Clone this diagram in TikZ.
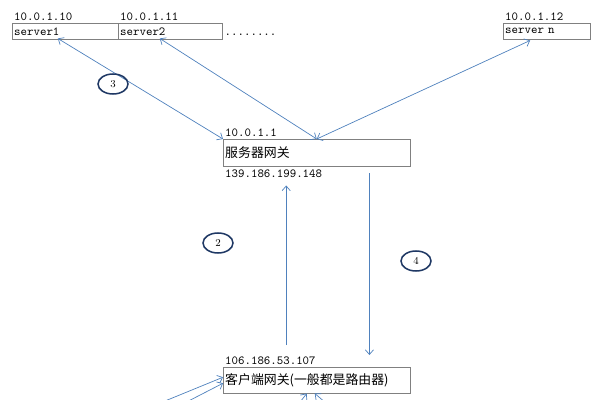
\documentclass[tikz,border=0pt]{standalone}
\usepackage{fontspec}
\newfontfamily\cjk{Noto Sans CJK SC}
\usetikzlibrary{shapes.geometric,calc,arrows.meta}
\definecolor{boxgray}{RGB}{128,128,128}
\definecolor{linkblue}{RGB}{79,129,189}
\definecolor{ringblue}{RGB}{31,56,100}
\newcommand{\cn}[1]{{\cjk\fontsize{11}{13}\selectfont #1}}
\tikzset{
	hostbox/.style={draw=boxgray, anchor=north west, align=left, inner xsep=0.06cm, inner ysep=0pt,
		font=\ttfamily\fontsize{10.5}{12}\selectfont},
	iplabel/.style={inner xsep=0.06cm, inner ysep=2pt, font=\ttfamily\fontsize{10.5}{12}\selectfont},
	link/.style={linkblue, line width=0.6pt},
	ring/.style={ellipse, draw=ringblue, line width=1.3pt, minimum width=0.9cm, minimum height=0.6cm,
		inner sep=0pt, font=\fontsize{9}{10}\selectfont}
}
\begin{document}
\begin{tikzpicture}[x=0.03cm, y=-0.03cm, >={Straight Barb[length=4pt,width=7pt]}]
		\useasboundingbox (0,0) rectangle (599,400);
		\clip (0,0) rectangle (599,400);
		
		%server boxes
		\node[hostbox, text width=3.06cm, minimum height=0.48cm] (s1) at (12,23){server1};
		\node[hostbox, text width=3.00cm, minimum height=0.48cm] (s2) at (118,23){server2};
		\node[hostbox, text width=2.49cm, minimum height=0.48cm] (sn) at (503,23){server n};
		\node[anchor=base west, inner sep=0.06cm, font=\ttfamily\fontsize{10.5}{12}\selectfont] (dots) at (s2.base east){........};
		\node[iplabel, anchor=south west] (s1ip) at (s1.north west){10.0.1.10};
		\node[iplabel, anchor=south west] (s2ip) at (s2.north west){10.0.1.11};
		\node[iplabel, anchor=south west] (snip) at (sn.north west){10.0.1.12};
		
		%gateways
		\node[hostbox, text width=5.49cm, minimum height=0.81cm] (gw) at (223,139){\cn{服务器网关}};
		\node[iplabel, anchor=south west] (gwin) at (gw.north west){10.0.1.1};
		\node[iplabel, anchor=north west, inner ysep=3pt] (gwout) at (gw.south west){139.186.199.148};
		\node[hostbox, text width=5.49cm, minimum height=0.78cm] (cgw) at (223,367){\cn{客户端网关(一般都是路由器)}};
		\node[iplabel, anchor=south west] (cgwip) at (cgw.north west){106.186.53.107};
		
		%links
		\draw[link, <->] ($(s1.south west)!0.43!(s1.south east)+(0,-1)$) -- (gw.north west);
		\draw[link, <->] ($(s2.south west)!0.40!(s2.south east)+(0,-1)$) -- (gw.north);
		\draw[link, <->] ($(sn.south west)!0.31!(sn.south east)+(0,1)$) -- (gw.north);
		\draw[link, ->] ($(cgw.north west)!0.337!(cgw.north east)+(0,-22)$) -- ($(gw.south west)!0.337!(gw.south east)+(0,19)$);
		\draw[link, ->] ($(gw.south west)!0.781!(gw.south east)+(0,7)$) -- ($(cgw.north west)!0.781!(cgw.north east)+(0,-12)$);
		
		%links to the clients (cut off below)
		\coordinate (cl1) at (143,410);
		\coordinate (cl2) at (171,410);
		\coordinate (cb1) at (290,415);
		\coordinate (cb2) at (340,415);
		\draw[link, ->] (cl1) -- ($(cgw.west)+(0,-3)$);
		\draw[link, ->] (cl2) -- ($(cgw.west)+(0,3)$);
		\draw[link, ->] (cb1) -- ($(cgw.south)+(-10,0)$);
		\draw[link, ->] (cb2) -- ($(cgw.south)+(-2,0)$);
		
		%step numbers
		\foreach \n/\x/\y in {3/113/84, 2/218/243, 4/416/261}{
			\node[ring] (step\n) at (\x,\y){\n};
		}
\end{tikzpicture}
\end{document}
